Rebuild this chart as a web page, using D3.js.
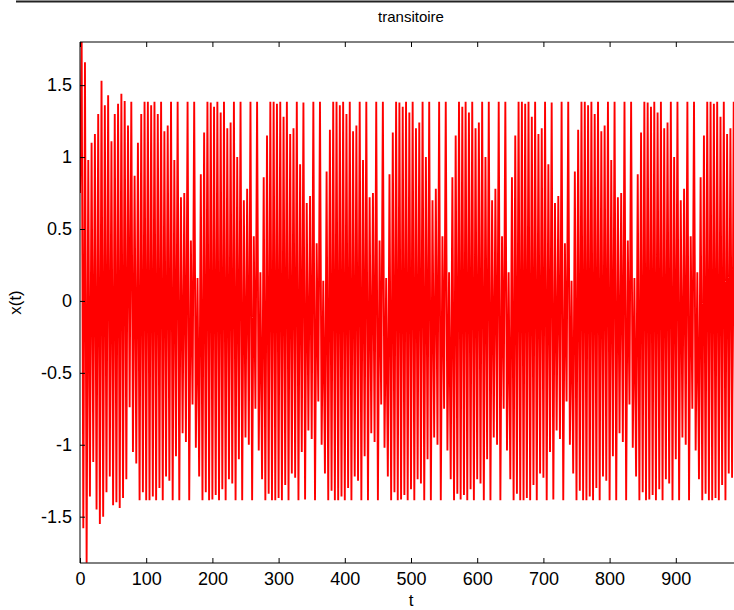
<!DOCTYPE html>
<html>
<head>
<meta charset="utf-8">
<script src="https://cdn.jsdelivr.net/npm/d3@7"></script>
<style>
  html, body { margin: 0; padding: 0; background: #fff; }
  svg { display: block; }
  text { font-family: "Liberation Sans", Arial, sans-serif; fill: #000; }
</style>
</head>
<body>
<svg id="chart" width="734" height="610"></svg>
<script>
// ---------------- data ----------------
const titleText = "transitoire";
const xLabelText = "t";
const yLabelText = "x(t)";
const xTickValues = [0, 100, 200, 300, 400, 500, 600, 700, 800, 900];
const yTickValues = [-1.5, -1, -0.5, 0, 0.5, 1, 1.5];
const xDomain = [0, 1000];
const yDomain = [-1.822, 1.80];

const startValue = 0.75;      // x(0)
const cyclePeriod = 5;        // time between successive maxima
// successive local maxima of x(t)
const peakValues = [
  1.80, 1.66, 0.98, 1.10, 1.16, 1.30, 1.53, 1.36, 1.43, 1.11, 1.30, 1.37, 1.44, 1.39, 1.22, 1.385, 0.87, 1.10, 1.30,
  1.385, 1.385, 1.36, 1.385, 1.30, 1.385, 1.18, 1.22, 1.385, 0.98, 1.385, 0.72, 0.75, 1.385, 0.42, 1.385, 0.16, 0.88, 1.17,
  1.385, 1.38, 1.35, 1.385, 1.31, 1.385, 1.20, 1.24, 1.385, 1.00, 1.385, 0.70, 0.78, 1.385, 0.45, 1.385, 0.20, 0.86, 1.15,
  1.385, 1.385, 1.37, 1.385, 1.28, 1.385, 1.16, 1.20, 1.385, 0.95, 1.38, 0.68, 0.73, 1.385, 0.40, 1.385, 0.14, 0.90, 1.19,
  1.385, 1.385, 1.36, 1.385, 1.30, 1.385, 1.18, 1.22, 1.385, 0.98, 1.385, 0.72, 0.75, 1.385, 0.42, 1.385, 0.16, 0.88, 1.17,
  1.385, 1.38, 1.35, 1.385, 1.31, 1.385, 1.20, 1.24, 1.385, 1.00, 1.385, 0.70, 0.78, 1.385, 0.45, 1.385, 0.20, 0.86, 1.15,
  1.385, 1.35, 1.385, 1.31, 1.385, 1.20, 1.24, 1.385, 1.00, 1.385, 0.70, 0.78, 1.385, 0.45, 1.385, 0.20, 0.86, 1.15,
  1.385, 1.385, 1.37, 1.385, 1.28, 1.385, 1.16, 1.20, 1.385, 0.95, 1.38, 0.68, 0.73, 1.385, 0.40, 1.385, 0.14, 0.90, 1.19,
  1.385, 1.385, 1.36, 1.385, 1.30, 1.385, 1.18, 1.22, 1.385, 0.98, 1.385, 0.72, 0.75, 1.385, 0.42, 1.385, 0.16, 0.88, 1.17,
  1.385, 1.38, 1.35, 1.385, 1.31, 1.385, 1.20, 1.24, 1.385, 1.00, 1.385, 0.70, 0.78, 1.385, 0.45, 1.385, 0.20, 0.86, 1.15,
  1.385, 1.385, 1.37, 1.385, 1.28, 1.385, 1.16, 1.20, 1.385, 0.95, 1.38
];
// successive local minima of x(t)
const troughValues = [
  -1.58, -1.82, -1.36, -1.12, -1.45, -1.55, -1.50, -1.33, -1.22, -1.42, -1.40, -1.44, -1.37, -1.24, -0.74, -1.05, -1.13, -1.385, -1.33,
  -1.385, -1.385, -1.36, -1.385, -1.30, -1.385, -1.22, -1.25, -1.385, -1.08, -1.385, -0.92, -0.98, -1.385, -0.72, -1.02, -1.22, -1.385, -1.33,
  -1.385, -1.38, -1.35, -1.385, -1.31, -1.385, -1.24, -1.27, -1.385, -1.10, -1.385, -0.95, -1.00, -1.385, -0.75, -1.04, -1.24, -1.385, -1.34,
  -1.385, -1.385, -1.37, -1.385, -1.28, -1.385, -1.20, -1.23, -1.385, -1.05, -1.38, -0.90, -0.96, -1.385, -0.70, -1.00, -1.20, -1.385, -1.32,
  -1.385, -1.385, -1.36, -1.385, -1.30, -1.385, -1.22, -1.25, -1.385, -1.08, -1.385, -0.92, -0.98, -1.385, -0.72, -1.02, -1.22, -1.385, -1.33,
  -1.385, -1.38, -1.35, -1.385, -1.31, -1.385, -1.24, -1.27, -1.385, -1.10, -1.385, -0.95, -1.00, -1.385, -0.75, -1.04, -1.24, -1.385, -1.34,
  -1.38, -1.35, -1.385, -1.31, -1.385, -1.24, -1.27, -1.385, -1.10, -1.385, -0.95, -1.00, -1.385, -0.75, -1.04, -1.24, -1.385, -1.34,
  -1.385, -1.385, -1.37, -1.385, -1.28, -1.385, -1.20, -1.23, -1.385, -1.05, -1.38, -0.90, -0.96, -1.385, -0.70, -1.00, -1.20, -1.385, -1.32,
  -1.385, -1.385, -1.36, -1.385, -1.30, -1.385, -1.22, -1.25, -1.385, -1.08, -1.385, -0.92, -0.98, -1.385, -0.72, -1.02, -1.22, -1.385, -1.33,
  -1.385, -1.38, -1.35, -1.385, -1.31, -1.385, -1.24, -1.27, -1.385, -1.10, -1.385, -0.95, -1.00, -1.385, -0.75, -1.04, -1.24, -1.385, -1.34,
  -1.385, -1.385, -1.37, -1.385, -1.28, -1.385, -1.20, -1.23, -1.385, -1.05, -1.38
];

// ---------------- layout ----------------
const W = 734, H = 610;
const plot = { left: 80, top: 42, right: 742, bottom: 563 };

const svg = d3.select("#chart");
svg.append("rect").attr("width", W).attr("height", H).attr("fill", "#fff");

// thin frame line at the very top of the capture
svg.append("line")
  .attr("x1", 16).attr("x2", W).attr("y1", 1.5).attr("y2", 1.5)
  .attr("stroke", "#222").attr("stroke-width", 2);

const x = d3.scaleLinear().domain(xDomain).range([plot.left, plot.right]);
const y = d3.scaleLinear().domain(yDomain).range([plot.bottom, plot.top]);

// build the series (alternating maxima / minima)
const series = [{ t: 0, v: startValue }];
for (let k = 0; k < peakValues.length; k++) {
  series.push({ t: cyclePeriod * (k + 0.5), v: peakValues[k] });
  if (k < troughValues.length) series.push({ t: cyclePeriod * (k + 1), v: troughValues[k] });
}

svg.append("clipPath").attr("id", "clip")
  .append("rect")
  .attr("x", plot.left).attr("y", plot.top)
  .attr("width", plot.right - plot.left).attr("height", plot.bottom - plot.top);

svg.append("path")
  .datum(series)
  .attr("clip-path", "url(#clip)")
  .attr("fill", "none")
  .attr("stroke", "#ff0000")
  .attr("stroke-width", 1.9)
  .attr("stroke-linejoin", "miter")
  .attr("stroke-miterlimit", 1.5)
  .attr("d", d3.line().x(d => x(d.t)).y(d => y(d.v)));

// ---------------- axes ----------------
const fmt = d => String(d);
const tickFont = 18;

const gx = svg.append("g").attr("transform", `translate(0,${plot.bottom})`)
  .call(d3.axisBottom(x).tickValues(xTickValues).tickFormat(fmt)
    .tickSizeInner(-5).tickSizeOuter(0).tickPadding(9));
const gxt = svg.append("g").attr("transform", `translate(0,${plot.top})`)
  .call(d3.axisTop(x).tickValues(xTickValues).tickFormat("")
    .tickSizeInner(-5).tickSizeOuter(0));
const gy = svg.append("g").attr("transform", `translate(${plot.left},0)`)
  .call(d3.axisLeft(y).tickValues(yTickValues).tickFormat(fmt)
    .tickSizeInner(-5).tickSizeOuter(0).tickPadding(8));
const gyr = svg.append("g").attr("transform", `translate(${plot.right},0)`)
  .call(d3.axisRight(y).tickValues(yTickValues).tickFormat("")
    .tickSizeInner(-5).tickSizeOuter(0));

[gx, gxt, gy, gyr].forEach(g => {
  g.selectAll("path.domain").attr("stroke", "#000").attr("stroke-width", 1);
  g.selectAll(".tick line").attr("stroke", "#000").attr("stroke-width", 1);
  g.selectAll(".tick text")
    .style("font-family", '"Liberation Sans", Arial, sans-serif')
    .style("font-size", tickFont + "px")
    .attr("fill", "#000");
});
gy.select("path.domain").attr("d", `M0,${plot.top}V${plot.bottom}`);
gx.select("path.domain").attr("d", `M${plot.left},0H${plot.right}`);
gxt.select("path.domain").attr("d", `M${plot.left},0H${plot.right}`);

// ---------------- labels ----------------
svg.append("text")
  .attr("x", (plot.left + plot.right) / 2).attr("y", 22)
  .attr("text-anchor", "middle")
  .style("font-size", "15px")
  .text(titleText);

svg.append("text")
  .attr("x", (plot.left + plot.right) / 2).attr("y", 606)
  .attr("text-anchor", "middle")
  .style("font-size", "17px")
  .text(xLabelText);

svg.append("text")
  .attr("transform", `translate(21,${(plot.top + plot.bottom) / 2}) rotate(-90)`)
  .attr("text-anchor", "middle")
  .style("font-size", "17px")
  .text(yLabelText);
</script>
</body>
</html>
